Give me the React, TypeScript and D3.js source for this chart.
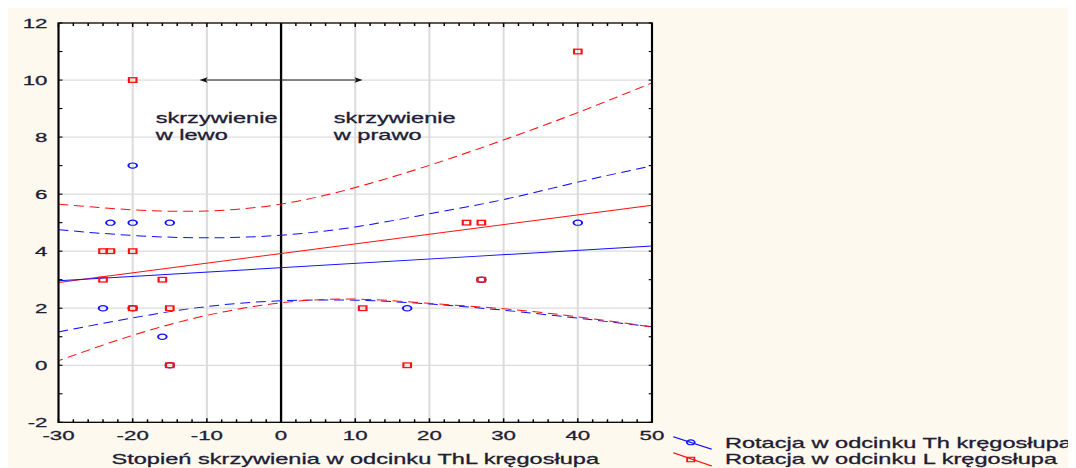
import React, { useEffect } from "react";
import * as d3 from "d3";

// Axis ticks
const xTicks = [-30, -20, -10, 0, 10, 20, 30, 40, 50];
const yTicks = [-2, 0, 2, 4, 6, 8, 10, 12];

// Rotacja w odcinku Th (circles)
const thX = [-20, -23, -20, -15, -24, -20, -16, -15, 17, 27, 40];
const thY = [7, 5, 5, 5, 2, 2, 1, 0, 2, 3, 5];

// Rotacja w odcinku L (squares)
const lX = [-20, -24, -23, -20, -24, -16, -20, -15, -15, 11, 25, 27, 27, 17, 40];
const lY = [10, 4, 4, 4, 3, 3, 2, 2, 0, 2, 5, 5, 3, 0, 11];

// Fitted lines (end points)
const fitX = [-30, 50];
const thFitY = [2.96, 4.18];
const lFitY = [2.9, 5.61];

// Confidence bands
const bandX = [-30, -20, -10, 0, 10, 20, 30, 40, 50];
const thUpper = [4.75, 4.55, 4.47, 4.56, 4.85, 5.31, 5.81, 6.42, 6.99];
const thLower = [1.17, 1.66, 2.06, 2.26, 2.28, 2.15, 1.93, 1.65, 1.35];
const lUpper = [5.65, 5.45, 5.41, 5.65, 6.23, 7.01, 7.9, 8.86, 9.9];
const lLower = [0.16, 1.05, 1.75, 2.19, 2.32, 2.17, 1.98, 1.7, 1.34];

const legendLabels = [
  "Rotacja w odcinku Th kręgosłupa",
  "Rotacja w odcinku L kręgosłupa",
];
const xTitle = "Stopień skrzywienia w odcinku ThL kręgosłupa";

const W = 1068;
const H = 460;
const SX = 1.65; // horizontal stretch of the drawing
const L = 50.5 / SX;
const R = 644 / SX;
const T = 15;
const B = 414.3;

const BLUE = "#1010ff";
const RED = "#ff1010";
const TEXT = "#1d1d35";
const FONT = "'Liberation Sans', Arial, sans-serif";

export default function App() {
  useEffect(() => {
    document.documentElement.style.overflow = "hidden";
    document.body.style.overflow = "hidden";
  }, []);

  const x = d3.scaleLinear().domain([-30, 50]).range([L, R]);
  const y = d3.scaleLinear().domain([-2, 12]).range([B, T]);

  const curve = d3
    .line<[number, number]>()
    .x((d) => x(d[0]))
    .y((d) => y(d[1]))
    .curve(d3.curveNatural);
  const straight = d3
    .line<[number, number]>()
    .x((d) => x(d[0]))
    .y((d) => y(d[1]));

  const zip = (xs: number[], ys: number[]) =>
    xs.map((v, i) => [v, ys[i]] as [number, number]);

  const xMinor = d3.range(-30, 50.001, 2);
  const yMinor = d3.range(-2, 12.001, 1);

  const ay = y(10);
  const aL = x(-11);
  const aR = x(11);

  return (
    <svg width={W} height={H} style={{ display: "block", background: "#fdf9ee" }}>
      <rect x={0} y={0} width={W} height={H} fill="#fdf9ee" />
      <g transform={`scale(${SX},1)`} fontFamily={FONT} fill={TEXT}>
        <rect x={L} y={T} width={R - L} height={B - T} fill="#ffffff" />

        {/* grid */}
        {xTicks
          .filter((t) => t !== -30 && t !== 50 && t !== 0)
          .map((t) => (
            <line key={"gx" + t} x1={x(t)} x2={x(t)} y1={T} y2={B} stroke="#dcdcdc" strokeWidth={1.25} />
          ))}
        {yTicks
          .filter((t) => t !== -2 && t !== 12)
          .map((t) => (
            <line key={"gy" + t} x1={L} x2={R} y1={y(t)} y2={y(t)} stroke="#dcdcdc" strokeWidth={1.25} />
          ))}

        {/* zero line */}
        <line x1={x(0)} x2={x(0)} y1={T} y2={B} stroke="#000" strokeWidth={1.4} />

        {/* direction arrow */}
        <line x1={aL + 3} x2={aR - 3} y1={ay} y2={ay} stroke="#222" strokeWidth={1} />
        <polygon
          points={`${aL},${ay} ${aL + 5},${ay - 2.7} ${aL + 3.8},${ay} ${aL + 5},${ay + 2.7}`}
          fill="#111"
        />
        <polygon
          points={`${aR},${ay} ${aR - 5},${ay - 2.7} ${aR - 3.8},${ay} ${aR - 5},${ay + 2.7}`}
          fill="#111"
        />

        <g stroke={TEXT} strokeWidth={0.3}>
          {/* annotations */}
          <text x={x(-16.9)} y={y(8.5)} fontSize={14.3}>skrzywienie</text>
          <text x={x(-16.9)} y={y(8.5) + 17} fontSize={14.3}>w lewo</text>
          <text x={x(7.1)} y={y(8.5)} fontSize={14.3}>skrzywienie</text>
          <text x={x(7.1)} y={y(8.5) + 17} fontSize={14.3}>w prawo</text>
        </g>

        {/* confidence bands */}
        <path d={curve(zip(bandX, lUpper)) || ""} fill="none" stroke={RED} strokeWidth={1} strokeDasharray="6,3.5" />
        <path d={curve(zip(bandX, thUpper)) || ""} fill="none" stroke={BLUE} strokeWidth={1} strokeDasharray="6,3.5" />
        <path d={curve(zip(bandX, thLower)) || ""} fill="none" stroke={BLUE} strokeWidth={1} strokeDasharray="6,3.5" />
        <path d={curve(zip(bandX, lLower)) || ""} fill="none" stroke={RED} strokeWidth={1} strokeDasharray="6,3.5" strokeDashoffset={3} />

        {/* fitted lines */}
        <path d={straight(zip(fitX, lFitY)) || ""} fill="none" stroke={RED} strokeWidth={1} />
        <path d={straight(zip(fitX, thFitY)) || ""} fill="none" stroke={BLUE} strokeWidth={1} />

        {/* points */}
        {thX.map((v, i) => (
          <circle key={"c" + i} cx={x(v)} cy={y(thY[i])} r={2.6} fill="none" stroke={BLUE} strokeWidth={1.2} />
        ))}
        {lX.map((v, i) => (
          <rect key={"s" + i} x={x(v) - 2.3} y={y(lY[i]) - 2.3} width={4.6} height={4.6} fill="none" stroke={RED} strokeWidth={1.3} />
        ))}

        {/* frame */}
        <rect x={L} y={T} width={R - L} height={B - T} fill="none" stroke="#000" strokeWidth={1.3} />

        {/* ticks */}
        {xMinor.map((t) => {
          const len = t % 10 === 0 ? 4 : 3;
          return (
            <g key={"tx" + t} stroke="#000" strokeWidth={0.9}>
              <line x1={x(t)} x2={x(t)} y1={B} y2={B - len} />
              <line x1={x(t)} x2={x(t)} y1={T} y2={T + len} />
            </g>
          );
        })}
        {yMinor.map((t) => (
          <g key={"ty" + t} stroke="#000" strokeWidth={1.1}>
            <line x1={L} x2={L + 2.4} y1={y(t)} y2={y(t)} />
            <line x1={R} x2={R - 2} y1={y(t)} y2={y(t)} />
          </g>
        ))}

        <g stroke={TEXT} strokeWidth={0.3}>
          {/* tick labels */}
          {yTicks.map((t) => (
            <text key={"ly" + t} x={L - 6.7} y={y(t)} dy="0.36em" textAnchor="end" fontSize={13.5}>
              {t}
            </text>
          ))}
          {xTicks.map((t) => (
            <text key={"lx" + t} x={x(t)} y={B + 17.7} textAnchor="middle" fontSize={13.5}>
              {t}
            </text>
          ))}

          {/* axis title */}
          <text x={(L + R) / 2} y={456} textAnchor="middle" fontSize={14.3}>
            {xTitle}
          </text>

          {/* legend */}
          <text x={434.5} y={440} fontSize={14.3}>{legendLabels[0]}</text>
          <text x={434.5} y={456.5} fontSize={14.3}>{legendLabels[1]}</text>
        </g>
        <line x1={403.2} y1={428.7} x2={426.5} y2={441.3} stroke={BLUE} strokeWidth={1} />
        <circle cx={413.8} cy={434.3} r={2.4} fill="none" stroke={BLUE} strokeWidth={1.1} />
        <line x1={403.2} y1={444.7} x2={426.5} y2={458} stroke={RED} strokeWidth={1} />
        <rect x={413.8 - 2.2} y={451.5 - 2.2} width={4.4} height={4.4} fill="none" stroke={RED} strokeWidth={1.1} />
      </g>
    </svg>
  );
}
